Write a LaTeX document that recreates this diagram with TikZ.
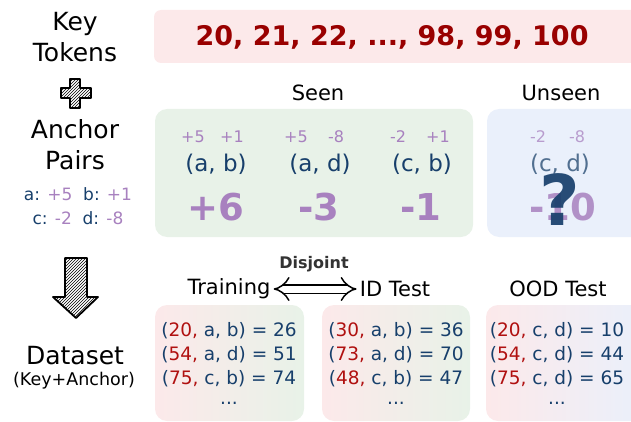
\documentclass[tikz,border=0pt]{standalone}
\usepackage{fontspec}
\setmainfont{DejaVu Sans}
\usetikzlibrary{patterns,arrows.meta}
\definecolor{keyred}{HTML}{990000}
\definecolor{dred}{HTML}{B01010}
\definecolor{pinkbg}{HTML}{FCE9EA}
\definecolor{greenbg}{HTML}{E8F2E8}
\definecolor{bluebg}{HTML}{EAF0FB}
\definecolor{navy}{HTML}{173F6B}
\definecolor{lilac}{HTML}{A881BF}
\newcommand{\fs}[1]{\fontsize{#1}{#1}\selectfont}
\tikzset{
  head/.style={font=\fs{25}, align=center, inner sep=0pt},
  sub/.style={font=\fs{21}, inner sep=0pt},
  small/.style={font=\fs{16}, text=lilac, inner sep=0pt},
  pair/.style={font=\fs{23}, text=navy, inner sep=0pt},
  big/.style={font=\bfseries\fs{37}, text=lilac, inner sep=0pt},
  dline/.style={font=\fs{18.5}, text=navy, inner sep=0pt},
  hatch/.style={pattern=north east lines, pattern color=black, draw=black, line width=1.8pt, line join=round},
}
\begin{document}
\begin{tikzpicture}[x=1pt,y=-1pt]
\path[use as bounding box] (0,0) rectangle (631,422);
% left column
\node[head] (key) at (75,37) {Key\\[6pt]Tokens};
\path[hatch] (70,79) -- (80,79) -- (80,88) -- (91,88) -- (91,98) -- (80,98) -- (80,108) -- (70,108) -- (70,98) -- (61,98) -- (61,88) -- (70,88) -- cycle;
\node[head] (anch) at (75,145) {Anchor\\[6pt]Pairs};
\node[font=\fs{17}, inner sep=0pt] (ab) at (78,194) {\textcolor{navy}{a:} \textcolor{lilac}{+5}\ \ \textcolor{navy}{b:} \textcolor{lilac}{+1}};
\node[font=\fs{17}, inner sep=0pt] (cd) at (78,218) {\textcolor{navy}{c:} \textcolor{lilac}{-2}\ \ \textcolor{navy}{d:} \textcolor{lilac}{-8}};
\path[hatch] (65,258) -- (87,258) -- (87,297) -- (98,297) -- (76,318) -- (53,297) -- (65,297) -- cycle;
\node[head] (ds) at (75,356) {Dataset};
\node[font=\fs{17.5}, inner sep=0pt] (dsk) at (74,381) {(Key+Anchor)};
% key tokens
\fill[pinkbg, rounded corners=7pt] (154,10) rectangle (640,63);
\node[font=\bfseries\fs{27}, text=keyred, inner sep=0pt] (tok) at (392,37) {20, 21, 22, ..., 98, 99, 100};
% seen
\node[sub] (seen) at (318,93) {Seen};
\fill[greenbg, rounded corners=12pt] (155,109) rectangle (473,237);
\node[small] (s1a) at (193,137) {+5};
\node[small] (s1b) at (232,137) {+1};
\node[pair] (p1) at (216,164) {(a, b)};
\node[big] (r1) at (216,207) {+6};
\node[small] (s2a) at (296,137) {+5};
\node[small] (s2b) at (336,137) {-8};
\node[pair] (p2) at (320,164) {(a, d)};
\node[big] (r2) at (319,207) {-3};
\node[small] (s3a) at (398,137) {-2};
\node[small] (s3b) at (438,137) {+1};
\node[pair] (p3) at (422,164) {(c, b)};
\node[big] (r3) at (421,207) {-1};
% unseen
\node[sub] (unseen) at (561,93) {Unseen};
\fill[bluebg, rounded corners=12pt] (487,109) rectangle (645,237);
\node[small, opacity=0.75] (u1a) at (538,137) {-2};
\node[small, opacity=0.75] (u1b) at (577,137) {-8};
\node[pair, text=navy!75] (pu) at (560,164) {(c, d)};
\node[big, opacity=0.85] (ru) at (563,207) {-10};
\node[font=\bfseries\fs{70}, text=navy, opacity=0.92, inner sep=0pt] (q) at (560,200) {?};
% dataset headers
\node[font=\bfseries\fs{16}, text=black!80, inner sep=0pt] (dis) at (314,264) {Disjoint};
\node[sub] (train) at (229,289) {Training};
\node[sub] (idt) at (395,289) {ID Test};
\node[sub] (ood) at (558,289) {OOD Test};
\draw[{Implies}-{Implies}, double, double distance=7pt, line width=1.5pt, shorten <=3pt, shorten >=3pt] (train.east) -- (idt.west);
% dataset boxes
\shade[left color=pinkbg, right color=greenbg, rounded corners=12pt] (155,305) rectangle (304,421);
\shade[left color=pinkbg, right color=greenbg, rounded corners=12pt] (322,305) rectangle (470,421);
\shade[left color=pinkbg, right color=bluebg, rounded corners=12pt] (486,305) rectangle (645,421);
\node[dline] (t1) at (229,331) {(\textcolor{dred}{20,} a, b) = 26};
\node[dline] (t2) at (229,355) {(\textcolor{dred}{54,} a, d) = 51};
\node[dline] (t3) at (229,379) {(\textcolor{dred}{75,} c, b) = 74};
\node[dline] (t4) at (229,403) {...};
\node[dline] (i1) at (396,331) {(\textcolor{dred}{30,} a, b) = 36};
\node[dline] (i2) at (396,355) {(\textcolor{dred}{73,} a, d) = 70};
\node[dline] (i3) at (396,379) {(\textcolor{dred}{48,} c, b) = 47};
\node[dline] (i4) at (396,403) {...};
\node[dline] (o1) at (557,331) {(\textcolor{dred}{20,} c, d) = 10};
\node[dline] (o2) at (557,355) {(\textcolor{dred}{54,} c, d) = 44};
\node[dline] (o3) at (557,379) {(\textcolor{dred}{75,} c, d) = 65};
\node[dline] (o4) at (557,403) {...};
\end{tikzpicture}
\end{document}
